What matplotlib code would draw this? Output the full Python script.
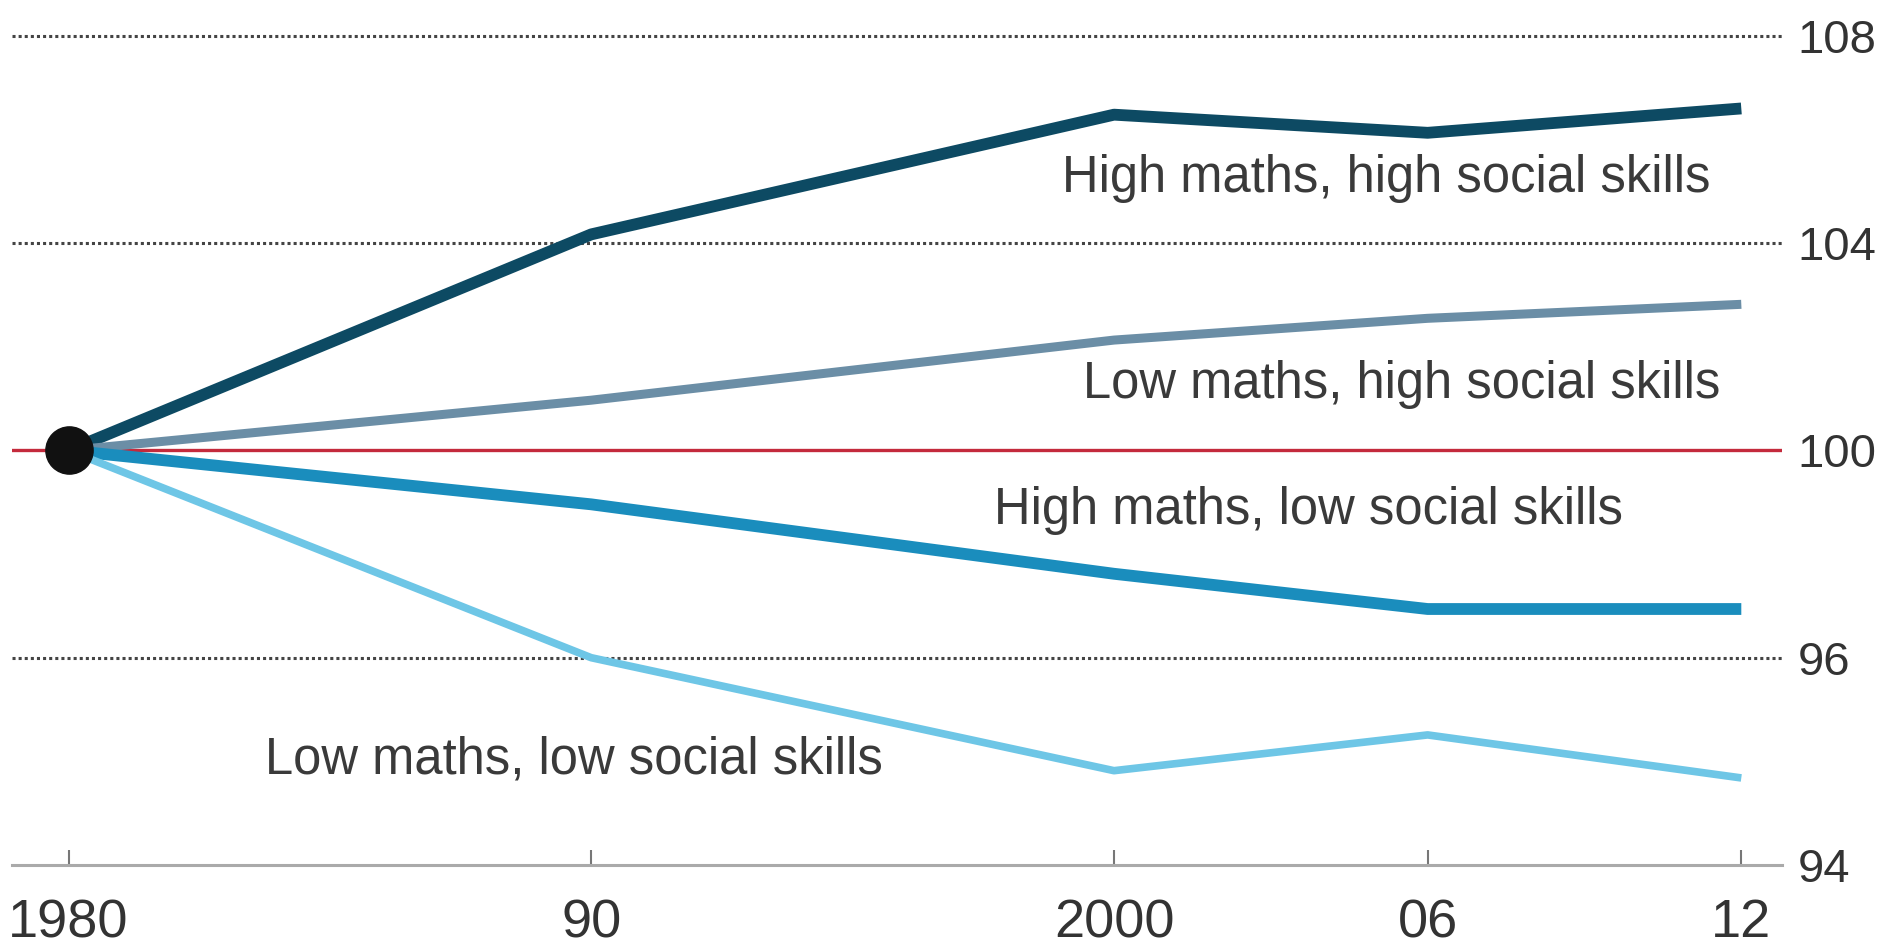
import matplotlib
matplotlib.use('Agg')
import matplotlib.pyplot as plt
import matplotlib as mpl

years = [1980, 1990, 2000, 2006, 2012]
xtick_labels = ['1980', '90', '2000', '06', '12']

hi_maths_hi_social = [100, 104.17, 106.48, 106.13, 106.6]
lo_maths_hi_social = [100, 100.97, 102.13, 102.55, 102.82]
hi_maths_lo_social = [100, 98.96, 97.62, 96.94, 96.94]
lo_maths_lo_social = [100, 96.0, 93.82, 94.51, 93.68]

ytick_vals = [92, 96, 100, 104, 108]
ytick_labels = ['94', '96', '100', '104', '108']

series = [
    ('High maths, high social skills', hi_maths_hi_social, '#0d4a63', 8.5, (1999.0, 105.25)),
    ('Low maths, high social skills', lo_maths_hi_social, '#6b8ea6', 6.5, (1999.4, 101.27)),
    ('High maths, low social skills', hi_maths_lo_social, '#1a8dbd', 8.5, (1997.7, 98.84)),
    ('Low maths, low social skills', lo_maths_lo_social, '#6ec6e6', 5.5, (1983.75, 94.03)),
]

mpl.rcParams['font.family'] = ['Liberation Sans', 'DejaVu Sans']

fig = plt.figure(figsize=(18.84, 9.52), dpi=100)
ax = fig.add_axes([0.0064, 0.0914, 0.9395, 0.8981])
ax.set_xlim(1978.92, 2012.78)
ax.set_ylim(92, 108.5)

for y in [96, 104, 108]:
    ax.axhline(y, color='#444444', lw=2.2, ls=(0, (1, 1)), zorder=1)
ax.axhline(100, color='#c42a3c', lw=2.4, zorder=2)

for label, vals, col, lw, pos in series:
    ax.plot(years, vals, color=col, lw=lw, solid_capstyle='butt', solid_joinstyle='round', zorder=3)
    ax.text(pos[0], pos[1], label, fontsize=36.5, color='#3a3a3a', va='center', ha='left')

ax.plot([1980], [100], 'o', color='#111111', markersize=34, zorder=5)

for s in ['top', 'left', 'right']:
    ax.spines[s].set_visible(False)
ax.spines['bottom'].set_color('#aaaaaa')
ax.spines['bottom'].set_linewidth(2.2)

ax.set_xticks(years)
ax.set_xticklabels(xtick_labels)
ax.tick_params(axis='x', direction='in', length=11, width=1.5, color='#777777',
               labelsize=39, labelcolor='#333333', pad=24)
ax.yaxis.tick_right()
ax.set_yticks(ytick_vals)
ax.set_yticklabels(ytick_labels)
ax.tick_params(axis='y', length=0, labelsize=34, labelcolor='#333333', pad=11)

plt.savefig('out.png', dpi=100)
